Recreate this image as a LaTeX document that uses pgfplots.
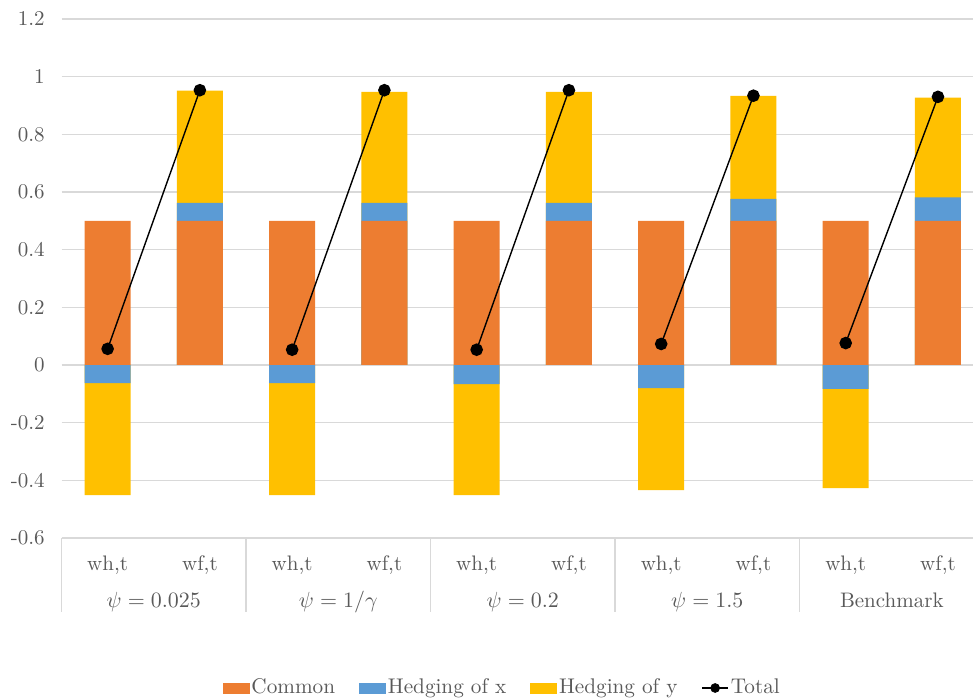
\documentclass[border=0pt]{standalone}
\usepackage{fontspec}
\usepackage{pgfplots}
\usepackage{pgfplotstable}
\pgfplotsset{compat=1.18}
\definecolor{cOrange}{HTML}{ED7D31}
\definecolor{cBlue}{HTML}{5B9BD5}
\definecolor{cYellow}{HTML}{FFC000}
\definecolor{cGrid}{HTML}{D9D9D9}
\definecolor{cText}{HTML}{595959}

% components of each bar
\pgfplotstableread{
x common hx hy
0 0.5 -0.0625 -0.389
1 0.5 0.0625 0.389
2 0.5 -0.0625 -0.389
3 0.5 0.0625 0.385
4 0.5 -0.066 -0.385
5 0.5 0.0625 0.385
6 0.5 -0.080 -0.354
7 0.5 0.076 0.357
8 0.5 -0.083 -0.344
9 0.5 0.081 0.346
}\bartab

\pgfplotstableread{
x total
0 0.056
1 0.953
1.5 nan
2 0.053
3 0.953
3.5 nan
4 0.053
5 0.953
5.5 nan
6 0.073
7 0.934
7.5 nan
8 0.076
9 0.930
}\totaltab

\begin{document}
\begin{tikzpicture}[font=\fontsize{10.5}{12.6}\selectfont, text=cText]
\begin{axis}[
  at={(0,0)}, anchor=south west,
  scale only axis, width=455.75pt, height=259.5pt,
  xmin=-0.5, xmax=9.38, ymin=-0.6, ymax=1.2,
  axis line style={draw=none},
  xtick=\empty,
  ytick={-0.6,-0.4,-0.2,0,0.2,0.4,0.6,0.8,1,1.2},
  yticklabels={-0.6,-0.4,-0.2,0,0.2,0.4,0.6,0.8,1,1.2},
  yticklabel style={anchor=east, inner sep=0pt, xshift=-8.25pt, text=cText, font=\fontsize{10.5}{12.6}\selectfont},
  major tick length=0pt,
  ymajorgrids, grid style={cGrid, line width=0.75pt},
  clip=false,
  legend style={at={(axis description cs:0.4835,-0.289)}, anchor=center, draw=none, fill=none,
    legend columns=-1, text=cText, font=\fontsize{10.6}{12.6}\selectfont,
    nodes={inner sep=1pt},
    /tikz/every even column/.append style={column sep=11pt}},
]
\addplot[ybar, bar width=23pt, bar shift=0pt, fill=cYellow, draw=none, forget plot]
  table[x=x, y expr={\thisrow{hx}+\thisrow{hy}+(\thisrow{hy}>0)*\thisrow{common}}] {\bartab};
\addplot[ybar, bar width=23pt, bar shift=0pt, fill=cBlue, draw=none, forget plot]
  table[x=x, y expr={\thisrow{hx}+(\thisrow{hx}>0)*\thisrow{common}}] {\bartab};
\addplot[ybar, bar width=23pt, bar shift=0pt, fill=cOrange, draw=none, forget plot]
  table[x=x, y=common] {\bartab};
\addplot[black, line width=0.7pt, mark=*, mark size=2.8pt, unbounded coords=jump, forget plot]
  table[x=x, y=total] {\totaltab};

\addlegendimage{legend image code/.code={\fill[cOrange] (0pt,-2.5pt) rectangle (13pt,2.5pt);}}
\addlegendentry{Common}
\addlegendimage{legend image code/.code={\fill[cBlue] (0pt,-2.5pt) rectangle (13pt,2.5pt);}}
\addlegendentry{Hedging of x}
\addlegendimage{legend image code/.code={\fill[cYellow] (0pt,-2.5pt) rectangle (13pt,2.5pt);}}
\addlegendentry{Hedging of y}
\addlegendimage{legend image code/.code={\draw[black, line width=0.7pt] (0pt,0pt) -- (13pt,0pt); \fill[black] (6.5pt,0pt) circle (2.2pt);}}
\addlegendentry{Total}

% separators of the category table
\draw[cGrid, line width=0.75pt] (axis cs:-0.5,-0.6) -- ++(0pt,-37pt);
\draw[cGrid, line width=0.75pt] (axis cs:1.5,-0.6) -- ++(0pt,-37pt);
\draw[cGrid, line width=0.75pt] (axis cs:3.5,-0.6) -- ++(0pt,-37pt);
\draw[cGrid, line width=0.75pt] (axis cs:5.5,-0.6) -- ++(0pt,-37pt);
\draw[cGrid, line width=0.75pt] (axis cs:7.5,-0.6) -- ++(0pt,-37pt);

% inner labels
\node[anchor=base] at ([yshift=-16pt]axis cs:0,-0.6) {wh,t};
\node[anchor=base] at ([yshift=-16pt]axis cs:1,-0.6) {wf,t};
\node[anchor=base] at ([yshift=-16pt]axis cs:2,-0.6) {wh,t};
\node[anchor=base] at ([yshift=-16pt]axis cs:3,-0.6) {wf,t};
\node[anchor=base] at ([yshift=-16pt]axis cs:4,-0.6) {wh,t};
\node[anchor=base] at ([yshift=-16pt]axis cs:5,-0.6) {wf,t};
\node[anchor=base] at ([yshift=-16pt]axis cs:6,-0.6) {wh,t};
\node[anchor=base] at ([yshift=-16pt]axis cs:7,-0.6) {wf,t};
\node[anchor=base] at ([yshift=-16pt]axis cs:8,-0.6) {wh,t};
\node[anchor=base] at ([yshift=-16pt]axis cs:9,-0.6) {wf,t};
% group labels
\node[anchor=base] at ([yshift=-34.5pt]axis cs:0.5,-0.6) {$\psi = 0.025$};
\node[anchor=base] at ([yshift=-34.5pt]axis cs:2.5,-0.6) {$\psi = 1/\gamma$};
\node[anchor=base] at ([yshift=-34.5pt]axis cs:4.5,-0.6) {$\psi = 0.2$};
\node[anchor=base] at ([yshift=-34.5pt]axis cs:6.5,-0.6) {$\psi = 1.5$};
\node[anchor=base] at ([yshift=-34.5pt]axis cs:8.5,-0.6) {Benchmark};
\end{axis}
\pgfresetboundingbox
\path[use as bounding box] (-30.75pt,-81pt) rectangle (455.75pt,269pt);
\end{tikzpicture}
\end{document}
